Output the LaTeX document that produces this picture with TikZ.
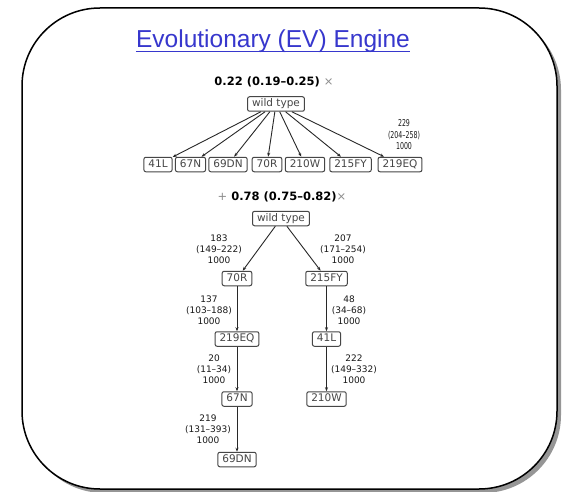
\documentclass[tikz,border=0pt]{standalone}
\usepackage{fontspec}
\setmainfont{DejaVu Sans}
\newfontfamily\titlefont{Liberation Sans}
\newfontfamily\labfont[FakeStretch=0.66]{DejaVu Sans}
\usetikzlibrary{arrows.meta}
\definecolor{titleblue}{RGB}{55,55,205}
\definecolor{boxc}{RGB}{70,70,70}
\definecolor{arrc}{RGB}{40,40,40}
\definecolor{shadowc}{RGB}{150,150,150}
\definecolor{crossc}{RGB}{140,140,140}
\begin{document}
\begin{tikzpicture}[x=1pt,y=-1pt,
  bx/.style={draw=boxc, rounded corners=2pt, line width=1pt, inner xsep=4.5pt, inner ysep=2pt,
     text=boxc, font=\fontsize{10.5}{12}\selectfont, text height=8pt, text depth=2.5pt},
  arr/.style={draw=arrc, line width=0.9pt, -{Stealth[length=4pt,width=3pt]}},
  lab/.style={align=center, font=\fontsize{9}{11}\selectfont, text=black!90, inner sep=0pt},
  labsm/.style={align=center, font=\labfont\fontsize{9.5}{11.5}\selectfont, text=black!90, inner sep=0pt},
  hdr/.style={anchor=base, inner sep=0pt, font=\bfseries\fontsize{11.5}{14}\selectfont}]
\useasboundingbox (0,0) rectangle (567,492);
% frame with shadow
\fill[shadowc, rounded corners=78pt] (26,12) rectangle (561,493);
\draw[line width=1.5pt, fill=white, rounded corners=78pt] (22,8) rectangle (557,489);
% title
\node[anchor=base, inner sep=0pt, text=titleblue, font=\titlefont\fontsize{24.5}{28}\selectfont] (title) at (273,48) {Evolutionary (EV) Engine};
\draw[titleblue, line width=1.3pt] ([yshift=-3.2pt]title.base west) -- ([yshift=-3.2pt]title.base east);
% upper tree
\node[hdr] (h1) at (274,86) {0.22 (0.19–0.25) {\mdseries\textcolor{crossc}{×}}};
\node[bx] (wt1) at (276,104) {wild type};
\node[bx] (u41L) at (158,164.5) {41L};
\node[bx] (u67N) at (190.5,164.5) {67N};
\node[bx] (u69DN) at (228,164.5) {69DN};
\node[bx] (u70R) at (267,164.5) {70R};
\node[bx] (u210W) at (305,164.5) {210W};
\node[bx] (u215FY) at (350.5,164.5) {215FY};
\node[bx] (u219EQ) at (400,164.5) {219EQ};
\foreach \b in {u41L,u67N,u69DN,u70R,u210W,u215FY,u219EQ}
  \draw[arr] (wt1) -- (\b);
\node[labsm] (lu) at (404,135) {229\\(204–258)\\1000};
% lower tree
\node[hdr] (h2) at (282,200) {{\mdseries\textcolor{crossc}{+}} 0.78 (0.75–0.82){\mdseries\textcolor{crossc}{×}}};
\node[bx] (wt2) at (281,218.5) {wild type};
\node[bx] (b70R) at (237,278.5) {70R};
\node[bx] (b215FY) at (326.5,278.5) {215FY};
\node[bx] (b219EQ) at (237,339) {219EQ};
\node[bx] (b41L) at (326.5,339) {41L};
\node[bx] (b67N) at (237,399) {67N};
\node[bx] (b210W) at (326.5,399) {210W};
\node[bx] (b69DN) at (237,459.5) {69DN};
\draw[arr] (wt2) -- (b70R);
\draw[arr] (wt2) -- (b215FY);
\draw[arr] (b70R) -- (b219EQ);
\draw[arr] (b219EQ) -- (b67N);
\draw[arr] (b67N) -- (b69DN);
\draw[arr] (b215FY) -- (b41L);
\draw[arr] (b41L) -- (b210W);
\node[lab] (l183) at (219,249) {183\\(149–222)\\1000};
\node[lab] (l207) at (343,249) {207\\(171–254)\\1000};
\node[lab] (l137) at (209,310) {137\\(103–188)\\1000};
\node[lab] (l48) at (349,310) {48\\(34–68)\\1000};
\node[lab] (l20) at (214,369.5) {20\\(11–34)\\1000};
\node[lab] (l222) at (354,369.5) {222\\(149–332)\\1000};
\node[lab] (l219) at (208,429) {219\\(131–393)\\1000};
\end{tikzpicture}
\end{document}
